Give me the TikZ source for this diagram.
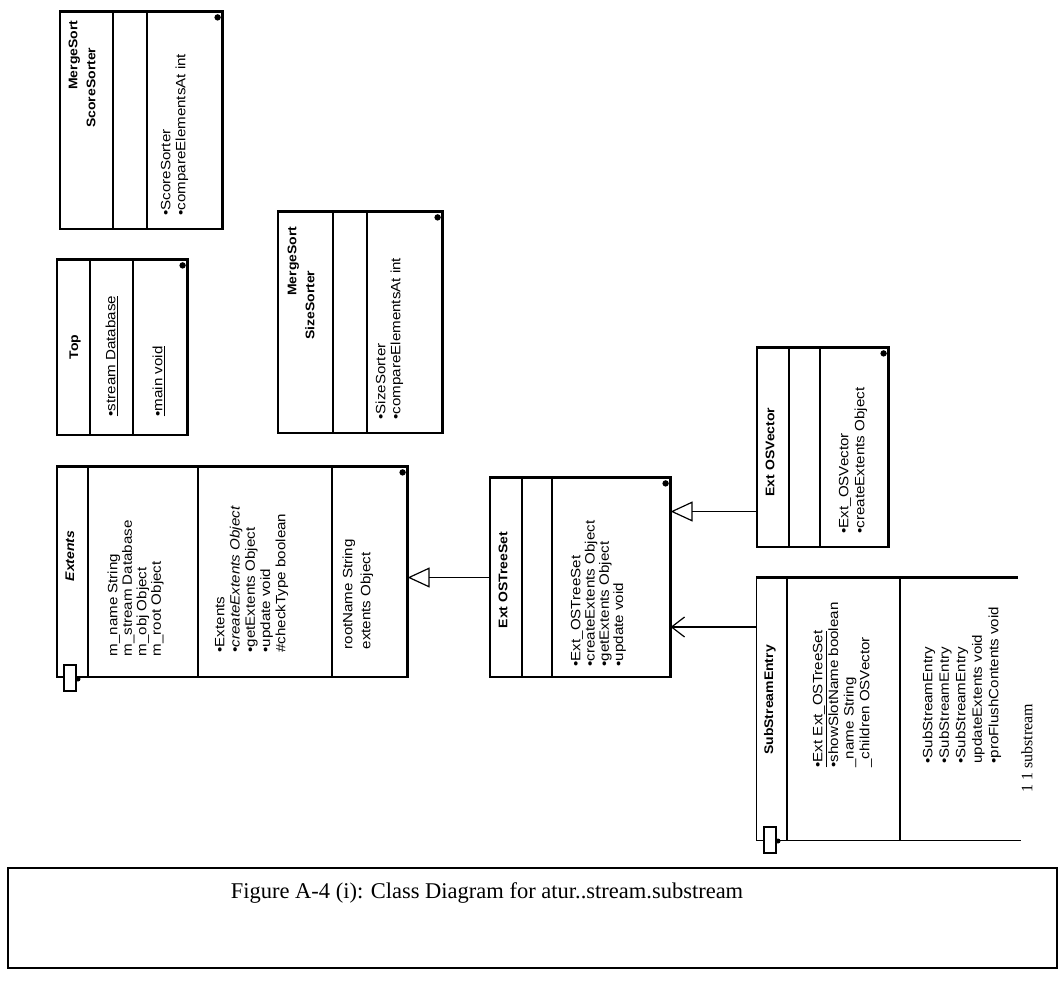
\documentclass[tikz,border=0pt]{standalone}
\usepackage{fontspec}
\setmainfont{Liberation Serif}
\setsansfont{Liberation Sans}
\newfontfamily\umlfont[FakeStretch=1.12]{Liberation Sans}
\usetikzlibrary{arrows.meta, positioning, calc}
\newcommand{\memberfont}{\umlfont\fontsize{13.5}{15}\selectfont}
\newcommand{\namefont}{\umlfont\bfseries\fontsize{12.5}{15}\selectfont}
\tikzset{
  classbox/.style={draw, line width=1.2pt, inner sep=0pt},
  shadowline/.style={line width=3.5pt},
  member/.style={rotate=90, anchor=mid west, inner sep=0pt, font=\memberfont},
  cname/.style={rotate=90, inner sep=0pt, font=\namefont},
  gen/.style={-{Triangle[open, length=22pt, width=20pt]}, line width=1.2pt},
  assoc/.style={-{Straight Barb[length=13pt, width=20pt]}, line width=1.2pt},
}

\begin{document}
\begin{tikzpicture}[x=1pt, y=-1pt, line width=1.2pt]
\useasboundingbox (0,0) rectangle (1062,1003);

% Cajas de clases
\node[classbox, minimum width=162pt, minimum height=217pt] (scoreSorter) at (141,120.5) {};
\node[classbox, minimum width=130pt, minimum height=175pt] (topCls) at (122,347.5) {};
\node[classbox, minimum width=164pt, minimum height=221pt] (sizeSorter) at (360,322.5) {};
\node[classbox, minimum width=350pt, minimum height=210pt] (extents) at (232,572) {};
\node[classbox, minimum width=180pt, minimum height=199pt] (treeSet) at (580,577.5) {};
\node[classbox, minimum width=131pt, minimum height=199pt] (osVector) at (822.5,447.5) {};
\node[minimum width=260pt, minimum height=262pt, inner sep=0pt] (subEntry) at (887,709) {};

% Sombras y marcas
\foreach \c in {scoreSorter, topCls, sizeSorter, extents, treeSet, osVector} {
  \draw[shadowline] (\c.north west) -- (\c.north east) -- (\c.south east);
  \fill ([xshift=-5pt, yshift=-6pt]\c.north east) circle (3.2pt);
}
\draw[shadowline] (subEntry.north west) -- (subEntry.north east);
\draw (subEntry.north west) -- (subEntry.south west) -- ([xshift=3pt]subEntry.south east);

% Compartimentos
\foreach \x in {113,147} \draw (\x,12) -- (\x,229);
\foreach \x in {90,133} \draw (\x,260) -- (\x,435);
\foreach \x in {333,367} \draw (\x,212) -- (\x,433);
\foreach \x in {88,198,332} \draw (\x,467) -- (\x,677);
\foreach \x in {522,552} \draw (\x,478) -- (\x,677);
\foreach \x in {789,820} \draw (\x,348) -- (\x,547);
\foreach \x in {787,900} \draw (\x,578) -- (\x,840);

% Iconos inferiores
\draw[fill=white, line width=1.5pt] (64,665) rectangle (76,691);
\fill (78,679) circle (2.5pt);
\draw[fill=white, line width=1.5pt] (764,827) rectangle (776,853);
\fill (778,841) circle (2.5pt);

% ScoreSorter
\node[cname, anchor=mid east] (scoreSorterPkg) at (75,20) {MergeSort};
\node[cname, anchor=mid east] (scoreSorterName) at (93,47) {ScoreSorter};
\foreach \t [count=\i from 0] in {•ScoreSorter, •compareElementsAt int}
  \node[member] (scoreSorterOp\i) at (168+15*\i,216) {\t};

% Top
\node[cname] (topName) at (75,347) {Top};
\node[member] (topAttr) at (113,417) {\underline{•stream Database}};
\node[member] (topOp) at (160,417) {\underline{•main void}};

% SizeSorter
\node[cname, anchor=mid east] (sizeSorterPkg) at (294,226) {MergeSort};
\node[cname, anchor=mid east] (sizeSorterName) at (312,270) {SizeSorter};
\foreach \t [count=\i from 0] in {•SizeSorter, •compareElementsAt int}
  \node[member] (sizeSorterOp\i) at (383+15*\i,420) {\t};

% Extents
\node[cname, font=\namefont\itshape] (extentsName) at (70,556) {Extents};
\foreach \t [count=\i from 0] in {m\_name String, m\_stream Database, m\_obj Object, m\_root Object}
  \node[member] (extentsAttr\i) at (115+14.5*\i,657) {\t};
\foreach \t [count=\i from 0] in {•Extents, {\itshape •createExtents Object}, •getExtents Object, •update void, \#checkType boolean}
  \node[member] (extentsOp\i) at (222+15.3*\i,653) {\t};
\foreach \t [count=\i from 0] in {rootName String, extents Object}
  \node[member] (extentsExtra\i) at (350+18*\i,650) {\t};

% Ext OSTreeSet
\node[cname] (treeSetName) at (503,580) {Ext OSTreeSet};
\foreach \t [count=\i from 0] in {•Ext\_OSTreeSet, •createExtents Object, •getExtents Object, •update void}
  \node[member] (treeSetOp\i) at (578+14.3*\i,667) {\t};

% Ext OSVector
\node[cname] (osVectorName) at (770,452) {Ext OSVector};
\foreach \t [count=\i from 0] in {•Ext\_OSVector, •createExtents Object}
  \node[member] (osVectorOp\i) at (846+16*\i,534) {\t};

% SubStreamEntry
\node[cname] (subEntryName) at (770,700) {SubStreamEntry};
\node[member] (subEntryAttr0) at (820,768) {\underline{•Ext Ext\_OSTreeSet}};
\foreach \t [count=\i from 1] in {•showSlotName boolean, \_name String, \_children OSVector}
  \node[member] (subEntryAttr\i) at (820+15.7*\i,768) {\t};
\foreach \t [count=\i from 0] in {•SubStreamEntry, •SubStreamEntry, •SubStreamEntry, updateExtents void, •proFlushContents void}
  \node[member] (subEntryOp\i) at (930+16.5*\i,764) {\t};

% Relaciones
\draw[gen] (treeSet.west) -- (treeSet.west -| extents.east);
\coordinate (vecArr) at ([yshift=-64pt]osVector.west);
\draw[gen] (vecArr) -- (vecArr -| treeSet.east);
\coordinate (subArr) at ([yshift=82pt]subEntry.west);
\draw[assoc] (subArr) -- (subArr -| treeSet.east);

% Texto lateral
\node[rotate=90, anchor=mid east, inner sep=0pt, font=\fontsize{16}{18}\selectfont] (sideNote) at (1030,703) {1 1 substream};

% Leyenda
\node[draw, line width=1.4pt, minimum width=1049pt, minimum height=100pt, inner sep=0pt] (captionBox) at (532.5,918) {};
\node[font=\fontsize{22.5}{26}\selectfont] (caption) at (487,893) {Figure A-4 (i): Class Diagram for atur..stream.substream};

\end{tikzpicture}
\end{document}
